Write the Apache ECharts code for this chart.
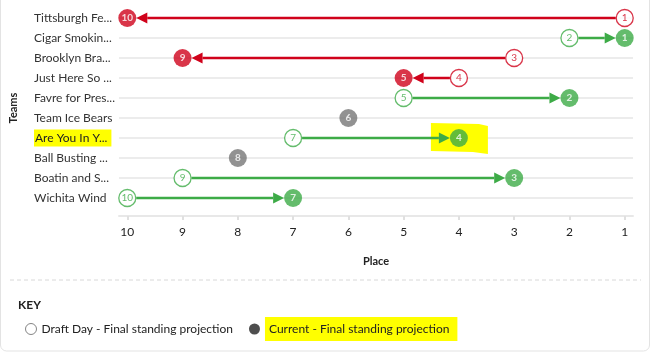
<!DOCTYPE html>
<html>
<head>
<meta charset="utf-8">
<script src="https://cdn.jsdelivr.net/npm/echarts@6/dist/echarts.min.js"></script>
<style>
  html, body { margin: 0; padding: 0; background: #fff; }
  #chart { width: 651px; height: 352px; }
</style>
</head>
<body>
<div id="chart"></div>
<script>
"use strict";

var teams = [
  "Tittsburgh Fe...", "Cigar Smokin...", "Brooklyn Bra...", "Just Here So ...",
  "Favre for Pres...", "Team Ice Bears", "Are You In Y...", "Ball Busting ...",
  "Boatin and S...", "Wichita Wind"
];
var draftPlace = [1, 2, 3, 4, 5, 6, 7, 8, 9, 10];
var currentPlace = [10, 1, 9, 5, 2, 6, 4, 8, 3, 7];
var placeTicks = [1, 2, 3, 4, 5, 6, 7, 8, 9, 10];
var highlightTeam = "Are You In Y...";

var RED = "#d0021b";
var GREEN = "#3dab47";
var GRAY = "#777777";
var FONT = "Lato, 'Open Sans', sans-serif";

function moveColor(i) {
  if (currentPlace[i] < draftPlace[i]) return GREEN;
  if (currentPlace[i] > draftPlace[i]) return RED;
  return GRAY;
}

var draftData = [];
var currentData = [];
var arrowData = [];
teams.forEach(function (t, i) {
  var c = moveColor(i);
  if (draftPlace[i] !== currentPlace[i]) {
    draftData.push({
      value: [draftPlace[i], i],
      itemStyle: { color: "#fff", borderColor: c, borderWidth: 1.3 },
      label: { color: c }
    });
    arrowData.push([draftPlace[i], currentPlace[i], i, c]);
  }
  currentData.push({ value: [currentPlace[i], i], itemStyle: { color: c } });
});

var hlIndex = teams.indexOf(highlightTeam);
var hlData = [[currentPlace[hlIndex], hlIndex]];

var chart = echarts.init(document.getElementById("chart"));

chart.setOption({
  animation: false,
  textStyle: { fontFamily: FONT },
  title: {
    text: "KEY",
    left: 13,
    top: 294,
    textStyle: { fontSize: 12, fontWeight: "bold", color: "#222", fontFamily: FONT }
  },
  legend: {
    left: 20,
    top: 312,
    selectedMode: false,
    itemWidth: 11,
    itemHeight: 11,
    itemGap: 16,
    textStyle: { fontSize: 12, color: "#222", fontFamily: FONT },
    data: [
      {
        name: "Draft Day - Final standing projection",
        icon: "circle",
        itemStyle: { color: "#fff", borderColor: "#666", borderWidth: 1 }
      },
      {
        name: "Current - Final standing projection",
        icon: "circle",
        itemStyle: { color: "#222", borderWidth: 0 },
        textStyle: { backgroundColor: "#ffff00", padding: [6, 8, 6, 4] }
      }
    ]
  },
  graphic: [
    {
      type: "rect",
      shape: { x: 0.5, y: -10, width: 649, height: 361, r: 6 },
      style: { fill: "none", stroke: "#e3e3e3", lineWidth: 1 },
      silent: true
    },
    {
      type: "line",
      shape: { x1: 10, y1: 280, x2: 641, y2: 280 },
      style: { stroke: "#d8d8d8", lineWidth: 1, lineDash: [4, 3] },
      silent: true
    }
  ],
  grid: { left: 118, right: 18, top: 18, height: 180 },
  xAxis: {
    type: "value",
    inverse: true,
    min: 0.85,
    max: 10.15,
    offset: 18,
    name: "Place",
    nameLocation: "middle",
    nameGap: 40,
    nameTextStyle: { fontSize: 11, fontWeight: "bold", color: "#222" },
    axisLine: { show: true, lineStyle: { color: "#e8e8e8", width: 2 } },
    axisTick: {
      show: true,
      customValues: placeTicks,
      length: 4,
      inside: false,
      lineStyle: { color: "#e0e0e0", width: 2 }
    },
    axisLabel: {
      customValues: placeTicks,
      fontSize: 12,
      color: "#222",
      margin: 10
    },
    splitLine: { show: false }
  },
  yAxis: {
    type: "category",
    inverse: true,
    boundaryGap: false,
    data: teams,
    name: "Teams",
    nameLocation: "middle",
    nameRotate: 90,
    nameGap: 100,
    nameTextStyle: { fontSize: 11, fontWeight: "bold", color: "#222" },
    axisLine: { show: false },
    axisTick: { show: false },
    axisLabel: {
      align: "left",
      margin: 85,
      fontSize: 12,
      color: "#333",
      formatter: function (v) {
        return v === highlightTeam ? "{hl|" + v + "}" : v;
      },
      rich: {
        hl: { backgroundColor: "#ffff00", padding: [3, 4, 2, 1], fontSize: 12, color: "#222" }
      }
    },
    splitLine: { show: true, lineStyle: { color: "#ececec", width: 2 } }
  },
  series: [
    {
      type: "custom",
      name: "highlight",
      z: 1,
      silent: true,
      data: hlData,
      renderItem: function (params, api) {
        var p = api.coord([api.value(0), api.value(1)]);
        return {
          type: "polygon",
          shape: {
            points: [
              [p[0] - 28, p[1] - 15], [p[0] + 20, p[1] - 14], [p[0] + 29, p[1] - 12],
              [p[0] + 29, p[1] + 16], [p[0] + 14, p[1] + 14], [p[0] - 28, p[1] + 13]
            ]
          },
          style: { fill: "#ffff00" }
        };
      }
    },
    {
      type: "custom",
      name: "moves",
      z: 2,
      silent: true,
      data: arrowData,
      renderItem: function (params, api) {
        var a = api.coord([api.value(0), api.value(2)]);
        var b = api.coord([api.value(1), api.value(2)]);
        var c = arrowData[params.dataIndex][3];
        var dir = b[0] > a[0] ? 1 : -1;
        var r = 9;
        var head = 11;
        var tip = b[0] - dir * r;
        var base = tip - dir * head;
        return {
          type: "group",
          children: [
            {
              type: "line",
              shape: { x1: a[0] + dir * r, y1: a[1], x2: base, y2: b[1] },
              style: { stroke: c, lineWidth: 2.5 }
            },
            {
              type: "polygon",
              shape: { points: [[tip, b[1]], [base, b[1] - 5.5], [base, b[1] + 5.5]] },
              style: { fill: c }
            }
          ]
        };
      }
    },
    {
      type: "scatter",
      name: "Draft Day - Final standing projection",
      z: 3,
      symbol: "circle",
      symbolSize: 17,
      data: draftData,
      label: {
        show: true,
        position: "inside",
        fontSize: 10,
        formatter: function (p) { return p.value[0]; }
      }
    },
    {
      type: "scatter",
      name: "Current - Final standing projection",
      z: 4,
      symbol: "circle",
      symbolSize: 18,
      data: currentData,
      label: {
        show: true,
        position: "inside",
        fontSize: 10,
        fontWeight: "bold",
        color: "#fff",
        formatter: function (p) { return p.value[0]; }
      }
    }
  ]
});
</script>
</body>
</html>
